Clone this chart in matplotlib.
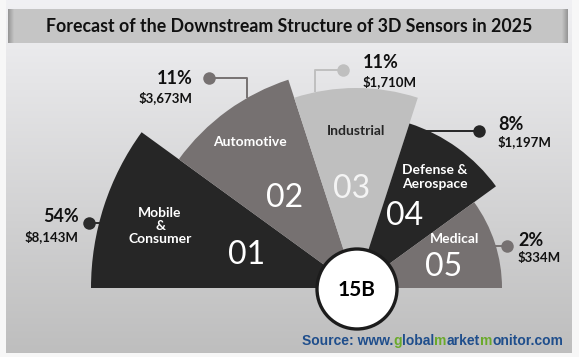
import numpy as np
import matplotlib
matplotlib.use("Agg")
import matplotlib.pyplot as plt
from matplotlib.patches import Wedge, Circle, Rectangle

# data
segments = ["Mobile\n&\nConsumer", "Automotive", "Industrial", "Defense &\nAerospace", "Medical"]
numbers = ["01", "02", "03", "04", "05"]
shares = ["54%", "11%", "11%", "8%", "2%"]
values = ["$8,143M", "$3,673M", "$1,710M", "$1,197M", "$334M"]
total = "15B"
# radius of each petal in pixels (as drawn in the picture)
radius = [265, 219, 200, 173, 146]

colors = ["#262626", "#767171", "#bfbfbf", "#262626", "#767171"]
label_colors = ["white", "white", "#262626", "white", "white"]
num_colors = ["white", "white", "#f4f4f4", "white", "white"]

W, H = 579, 357
cx, cy = 356, 288

plt.rcParams['font.family'] = ['Lato', 'DejaVu Sans']

fig = plt.figure(figsize=(W / 100, H / 100), dpi=100)
ax = fig.add_axes([0, 0, 1, 1])
ax.set_xlim(0, W)
ax.set_ylim(H, 0)
ax.axis("off")

# background: white page + grey gradient panel
fig.patch.set_facecolor("#f7f7f7")
grad = np.linspace(0, 1, 256)[:, None]
top = np.array([0.945, 0.945, 0.955])
bot = np.array([0.745, 0.745, 0.745])
img = top + (bot - top) * grad[..., None]
ax.imshow(img, extent=(6, 572, 353, 0), aspect="auto", zorder=0)

# title bar
ax.add_patch(Rectangle((8, 9), 560, 34, facecolor="#c5c5c5", edgecolor="none", zorder=1))
edge = np.linspace(0, 1, 64)[None, :]
shade = 0.58 + (0.77 - 0.58) * edge
ax.imshow(np.dstack([shade] * 3), extent=(8, 14, 43, 9), aspect="auto", zorder=1.5)
ax.imshow(np.dstack([shade[:, ::-1]] * 3), extent=(562, 568, 43, 9), aspect="auto", zorder=1.5)
ax.text(289, 26, "Forecast of the Downstream Structure of 3D Sensors in 2025",
        ha="center", va="center", fontsize=12.8, fontweight="bold", color="#111111", zorder=2)

# petals
n = len(segments)
step = 180 / n
for i in range(n):
    t1 = 180 - (i + 1) * step
    t2 = 180 - i * step
    ax.add_patch(Wedge((cx, cy), radius[i], -t2, -t1, facecolor=colors[i],
                       edgecolor="none", zorder=3))

# labels inside petals
label_pos = [(160, 226), (250, 142), (356, 131), (435, 177), (455, 239)]
num_pos = [(247, 255), (285, 198), (352, 189), (405, 216), (444, 267)]
for i in range(n):
    ax.text(label_pos[i][0], label_pos[i][1], segments[i], ha="center", va="center",
            fontsize=10, fontweight="bold", color=label_colors[i], linespacing=1.1, zorder=5)
    ax.text(num_pos[i][0], num_pos[i][1], numbers[i], ha="center", va="center",
            fontsize=23, fontweight="normal", color=num_colors[i], zorder=5)

# centre circle
ax.add_patch(Circle((cx + 1, cy + 1), 40, facecolor="white", edgecolor="#1c1c1c",
                    linewidth=2.4, zorder=6))
ax.text(cx + 1, cy + 2, total, ha="center", va="center", fontsize=15,
        fontweight="bold", color="black", zorder=7)

# callouts: connector path, dot colour, text anchor
def arc_pt(i, x=None, y=None, side=1):
    r = radius[i]
    if x is not None:
        return x, cy - np.sqrt(r ** 2 - (x - cx) ** 2)
    return cx + side * np.sqrt(r ** 2 - (cy - y) ** 2), y

dot_col = ["#2b2b2b", "#767171", "#bfbfbf", "#262626", "#767171"]
paths = []
# mobile: dot sits on the arc
p = arc_pt(0, y=223, side=-1)
paths.append(([p[0] + 2, 89], [223, 223]))
p = arc_pt(1, x=247)
paths.append(([247, 247, 209], [p[1], 78, 78]))
p = arc_pt(2, x=315)
paths.append(([315, 315, 343], [p[1], 70, 70]))
p = arc_pt(3, y=131)
paths.append(([p[0] - 4, 479], [131, 131]))
p = arc_pt(4, y=246)
paths.append(([p[0] - 2, 507], [246, 246]))

for i, (xs, ys) in enumerate(paths):
    ax.plot(xs, ys, color=dot_col[i], lw=1.4, zorder=2.5, solid_capstyle="butt")
    ax.plot(xs[-1], ys[-1], "o", ms=9, color=dot_col[i], mec="none", zorder=4)

text_pos = [(79, 216, 237, "right"), (193, 79, 98, "right"), (363, 63, 82, "left"),
            (498, 124, 142, "left"), (518, 240, 258, "left")]
for i, (tx, y1, y2, ha) in enumerate(text_pos):
    ax.text(tx, y1, shares[i], ha=ha, va="center", fontsize=13, fontweight="bold",
            color="#111111", zorder=5)
    ax.text(tx, y2, values[i], ha=ha, va="center", fontsize=9.5, fontweight="bold",
            color="#111111", zorder=5)

# source line, with green letters
blue, green = "#1f4e8c", "#6aaa2a"
parts = [("Source: www.", blue), ("g", green), ("lobal", blue), ("m", green),
         ("arket", blue), ("m", green), ("onitor.com", blue)]
prev = ax.text(302, 341, parts[0][0], ha="left", va="center", fontsize=10,
               fontweight="bold", color=parts[0][1], family="Liberation Sans", zorder=5)
for s, c in parts[1:]:
    prev = ax.annotate(s, xy=(1, 0), xycoords=prev, ha="left", va="bottom",
                       fontsize=10, fontweight="bold", color=c,
                       family="Liberation Sans", zorder=5)

fig.savefig("out.png", dpi=100, facecolor=fig.get_facecolor())
